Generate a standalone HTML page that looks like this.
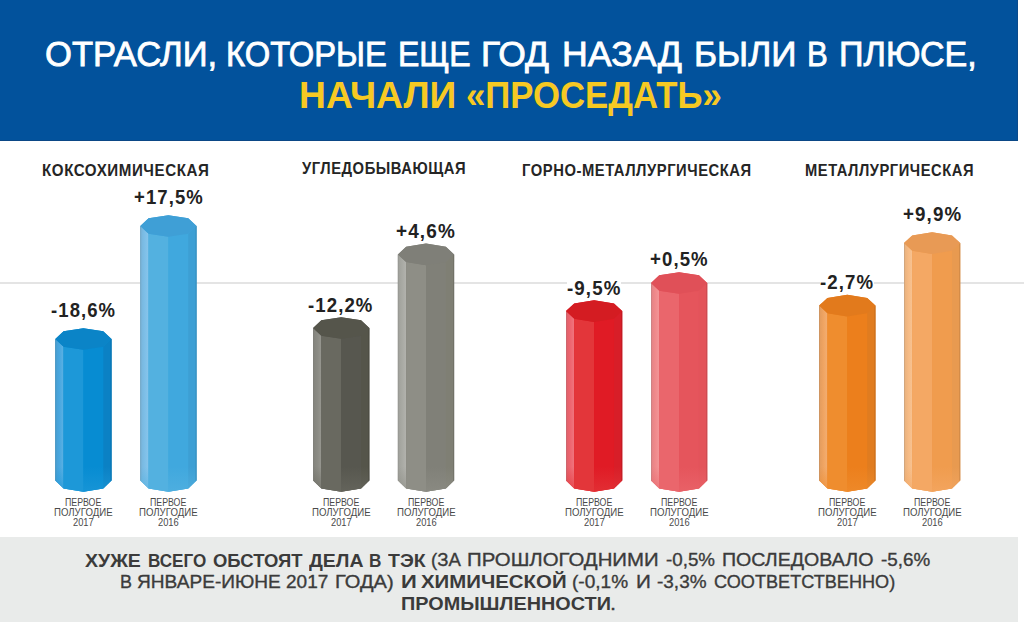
<!DOCTYPE html><html><head><meta charset="utf-8"><style>
html,body{margin:0;padding:0}body{width:1024px;height:622px;overflow:hidden;background:#fff;position:relative;font-family:"Liberation Sans",sans-serif}
.t{position:absolute;white-space:nowrap;transform-origin:0 0}b{font-weight:700}.bx{position:absolute;background:#fff}
</style></head><body>
<div style="position:absolute;left:0;top:0;width:1017px;height:140px;background:#02529c;border-right:1px solid #0a4a8c;border-bottom:1px solid #0b4886"></div>
<div style="position:absolute;left:0;top:282px;width:1024px;height:2px;background:#e4e4e4"></div>
<div style="position:absolute;left:0;top:537px;width:1018px;height:85px;background:#e9ebea"></div>
<div class="bx" style="left:50.9px;top:301.8px;width:65.0px;height:19.1px"></div>
<div class="bx" style="left:133.8px;top:188.7px;width:69.6px;height:18.9px"></div>
<div class="bx" style="left:308.0px;top:296.6px;width:65.3px;height:19.1px"></div>
<div class="bx" style="left:395.8px;top:222.7px;width:59.5px;height:19.1px"></div>
<div class="bx" style="left:567.0px;top:279.3px;width:54.2px;height:19.3px"></div>
<div class="bx" style="left:649.9px;top:251.1px;width:58.4px;height:19.0px"></div>
<div class="bx" style="left:820.0px;top:273.9px;width:54.0px;height:19.0px"></div>
<div class="bx" style="left:902.7px;top:206.0px;width:58.9px;height:18.8px"></div>
<svg width="1024" height="622" style="position:absolute;left:0;top:0"><polygon points="55.30,339.00 63.53,331.36 83.40,328.20 103.27,331.36 111.50,339.00 111.50,480.60 103.27,488.52 83.40,491.80 63.53,488.52 55.30,480.60" fill="#078cd2"/><defs><linearGradient id="gA1" x1="0" x2="1" y1="0" y2="0"><stop offset="0" stop-color="#469ed3"/><stop offset="0.55" stop-color="#4aa8e0"/><stop offset="1" stop-color="#5cb1e3"/></linearGradient></defs><polygon points="55.30,339.00 63.53,346.64 63.53,488.52 55.30,480.60" fill="url(#gA1)"/><polygon points="63.53,346.64 83.40,349.80 83.40,491.80 63.53,488.52" fill="#1d98d8"/><polygon points="83.40,349.80 103.27,346.64 103.27,488.52 83.40,491.80" fill="#078cd2"/><polygon points="103.27,346.64 111.50,339.00 111.50,480.60 103.27,488.52" fill="#0b81c4"/><defs><linearGradient id="bA1" gradientUnits="userSpaceOnUse" x1="0" x2="0" y1="466.6" y2="491.8"><stop offset="0" stop-color="#1d98d8" stop-opacity="0"/><stop offset="1" stop-color="#1d98d8" stop-opacity="0.7"/></linearGradient></defs><polygon points="55.30,466.60 111.50,466.60 111.50,480.60 103.27,488.52 83.40,491.80 63.53,488.52 55.30,480.60" fill="url(#bA1)"/><line x1="55.70" y1="339.00" x2="55.70" y2="480.60" stroke="#6090ac" stroke-width="0.8" opacity="0.6"/><line x1="111.10" y1="339.00" x2="111.10" y2="480.60" stroke="#086193" stroke-width="0.8" opacity="0.6"/><polygon points="55.30,339.00 63.53,331.36 83.40,328.20 103.27,331.36 111.50,339.00 103.27,346.64 83.40,349.80 63.53,346.64" fill="#0b84c7"/><polygon points="140.30,226.00 148.53,218.36 168.40,215.20 188.27,218.36 196.50,226.00 196.50,480.60 188.27,488.52 168.40,491.80 148.53,488.52 140.30,480.60" fill="#40a8de"/><defs><linearGradient id="gB1" x1="0" x2="1" y1="0" y2="0"><stop offset="0" stop-color="#76b4da"/><stop offset="0.55" stop-color="#7dbfe8"/><stop offset="1" stop-color="#8ac5ea"/></linearGradient></defs><polygon points="140.30,226.00 148.53,233.64 148.53,488.52 140.30,480.60" fill="url(#gB1)"/><polygon points="148.53,233.64 168.40,236.80 168.40,491.80 148.53,488.52" fill="#53b1e0"/><polygon points="168.40,236.80 188.27,233.64 188.27,488.52 168.40,491.80" fill="#40a8de"/><polygon points="188.27,233.64 196.50,226.00 196.50,480.60 188.27,488.52" fill="#3d9fd4"/><defs><linearGradient id="bB1" gradientUnits="userSpaceOnUse" x1="0" x2="0" y1="466.6" y2="491.8"><stop offset="0" stop-color="#53b1e0" stop-opacity="0"/><stop offset="1" stop-color="#53b1e0" stop-opacity="0.7"/></linearGradient></defs><polygon points="140.30,466.60 196.50,466.60 196.50,480.60 188.27,488.52 168.40,491.80 148.53,488.52 140.30,480.60" fill="url(#bB1)"/><line x1="140.70" y1="226.00" x2="140.70" y2="480.60" stroke="#7a9bb0" stroke-width="0.8" opacity="0.6"/><line x1="196.10" y1="226.00" x2="196.10" y2="480.60" stroke="#2e779f" stroke-width="0.8" opacity="0.6"/><polygon points="140.30,226.00 148.53,218.36 168.40,215.20 188.27,218.36 196.50,226.00 188.27,233.64 168.40,236.80 148.53,233.64" fill="#3f9fd6"/><polygon points="313.10,328.00 321.33,320.36 341.20,317.20 361.07,320.36 369.30,328.00 369.30,480.60 361.07,488.52 341.20,491.80 321.33,488.52 313.10,480.60" fill="#57574f"/><defs><linearGradient id="gA2" x1="0" x2="1" y1="0" y2="0"><stop offset="0" stop-color="#83837c"/><stop offset="0.55" stop-color="#8b8b84"/><stop offset="1" stop-color="#979790"/></linearGradient></defs><polygon points="313.10,328.00 321.33,335.64 321.33,488.52 313.10,480.60" fill="url(#gA2)"/><polygon points="321.33,335.64 341.20,338.80 341.20,491.80 321.33,488.52" fill="#696960"/><polygon points="341.20,338.80 361.07,335.64 361.07,488.52 341.20,491.80" fill="#57574f"/><polygon points="361.07,335.64 369.30,328.00 369.30,480.60 361.07,488.52" fill="#55554a"/><defs><linearGradient id="bA2" gradientUnits="userSpaceOnUse" x1="0" x2="0" y1="466.6" y2="491.8"><stop offset="0" stop-color="#696960" stop-opacity="0"/><stop offset="1" stop-color="#696960" stop-opacity="0.7"/></linearGradient></defs><polygon points="313.10,466.60 369.30,466.60 369.30,480.60 361.07,488.52 341.20,491.80 321.33,488.52 313.10,480.60" fill="url(#bA2)"/><line x1="313.50" y1="328.00" x2="313.50" y2="480.60" stroke="#81817e" stroke-width="0.8" opacity="0.6"/><line x1="368.90" y1="328.00" x2="368.90" y2="480.60" stroke="#404038" stroke-width="0.8" opacity="0.6"/><polygon points="313.10,328.00 321.33,320.36 341.20,317.20 361.07,320.36 369.30,328.00 361.07,335.64 341.20,338.80 321.33,335.64" fill="#55554b"/><polygon points="397.90,254.40 406.13,246.76 426.00,243.60 445.87,246.76 454.10,254.40 454.10,480.60 445.87,488.52 426.00,491.80 406.13,488.52 397.90,480.60" fill="#808078"/><defs><linearGradient id="gB2" x1="0" x2="1" y1="0" y2="0"><stop offset="0" stop-color="#9fa09a"/><stop offset="0.55" stop-color="#a9aaa4"/><stop offset="1" stop-color="#b2b2ad"/></linearGradient></defs><polygon points="397.90,254.40 406.13,262.04 406.13,488.52 397.90,480.60" fill="url(#gB2)"/><polygon points="406.13,262.04 426.00,265.20 426.00,491.80 406.13,488.52" fill="#8e8e86"/><polygon points="426.00,265.20 445.87,262.04 445.87,488.52 426.00,491.80" fill="#808078"/><polygon points="445.87,262.04 454.10,254.40 454.10,480.60 445.87,488.52" fill="#7f7f74"/><defs><linearGradient id="bB2" gradientUnits="userSpaceOnUse" x1="0" x2="0" y1="466.6" y2="491.8"><stop offset="0" stop-color="#8e8e86" stop-opacity="0"/><stop offset="1" stop-color="#8e8e86" stop-opacity="0.7"/></linearGradient></defs><polygon points="397.90,466.60 454.10,466.60 454.10,480.60 445.87,488.52 426.00,491.80 406.13,488.52 397.90,480.60" fill="url(#bB2)"/><line x1="398.30" y1="254.40" x2="398.30" y2="480.60" stroke="#90908e" stroke-width="0.8" opacity="0.6"/><line x1="453.70" y1="254.40" x2="453.70" y2="480.60" stroke="#5f5f57" stroke-width="0.8" opacity="0.6"/><polygon points="397.90,254.40 406.13,246.76 426.00,243.60 445.87,246.76 454.10,254.40 445.87,262.04 426.00,265.20 406.13,262.04" fill="#7f7f78"/><polygon points="566.00,311.10 574.23,303.46 594.10,300.30 613.97,303.46 622.20,311.10 622.20,480.60 613.97,488.52 594.10,491.80 574.23,488.52 566.00,480.60" fill="#e01b25"/><defs><linearGradient id="gA3" x1="0" x2="1" y1="0" y2="0"><stop offset="0" stop-color="#e06069"/><stop offset="0.55" stop-color="#ee6670"/><stop offset="1" stop-color="#f0757e"/></linearGradient></defs><polygon points="566.00,311.10 574.23,318.74 574.23,488.52 566.00,480.60" fill="url(#gA3)"/><polygon points="574.23,318.74 594.10,321.90 594.10,491.80 574.23,488.52" fill="#e3363a"/><polygon points="594.10,321.90 613.97,318.74 613.97,488.52 594.10,491.80" fill="#e01b25"/><polygon points="613.97,318.74 622.20,311.10 622.20,480.60 613.97,488.52" fill="#d81e28"/><defs><linearGradient id="bA3" gradientUnits="userSpaceOnUse" x1="0" x2="0" y1="466.6" y2="491.8"><stop offset="0" stop-color="#e3363a" stop-opacity="0"/><stop offset="1" stop-color="#e3363a" stop-opacity="0.7"/></linearGradient></defs><polygon points="566.00,466.60 622.20,466.60 622.20,480.60 613.97,488.52 594.10,491.80 574.23,488.52 566.00,480.60" fill="url(#bA3)"/><line x1="566.40" y1="311.10" x2="566.40" y2="480.60" stroke="#b26e74" stroke-width="0.8" opacity="0.6"/><line x1="621.80" y1="311.10" x2="621.80" y2="480.60" stroke="#a2161e" stroke-width="0.8" opacity="0.6"/><polygon points="566.00,311.10 574.23,303.46 594.10,300.30 613.97,303.46 622.20,311.10 613.97,318.74 594.10,321.90 574.23,318.74" fill="#d41c22"/><polygon points="651.00,283.00 659.23,275.36 679.10,272.20 698.97,275.36 707.20,283.00 707.20,480.60 698.97,488.52 679.10,491.80 659.23,488.52 651.00,480.60" fill="#e5555c"/><defs><linearGradient id="gB3" x1="0" x2="1" y1="0" y2="0"><stop offset="0" stop-color="#e28284"/><stop offset="0.55" stop-color="#f08a8c"/><stop offset="1" stop-color="#f29698"/></linearGradient></defs><polygon points="651.00,283.00 659.23,290.64 659.23,488.52 651.00,480.60" fill="url(#gB3)"/><polygon points="659.23,290.64 679.10,293.80 679.10,491.80 659.23,488.52" fill="#ea666c"/><polygon points="679.10,293.80 698.97,290.64 698.97,488.52 679.10,491.80" fill="#e5555c"/><polygon points="698.97,290.64 707.20,283.00 707.20,480.60 698.97,488.52" fill="#e3545a"/><defs><linearGradient id="bB3" gradientUnits="userSpaceOnUse" x1="0" x2="0" y1="466.6" y2="491.8"><stop offset="0" stop-color="#ea666c" stop-opacity="0"/><stop offset="1" stop-color="#ea666c" stop-opacity="0.7"/></linearGradient></defs><polygon points="651.00,466.60 707.20,466.60 707.20,480.60 698.97,488.52 679.10,491.80 659.23,488.52 651.00,480.60" fill="url(#bB3)"/><line x1="651.40" y1="283.00" x2="651.40" y2="480.60" stroke="#b48082" stroke-width="0.8" opacity="0.6"/><line x1="706.80" y1="283.00" x2="706.80" y2="480.60" stroke="#aa3f44" stroke-width="0.8" opacity="0.6"/><polygon points="651.00,283.00 659.23,275.36 679.10,272.20 698.97,275.36 707.20,283.00 698.97,290.64 679.10,293.80 659.23,290.64" fill="#e05058"/><polygon points="819.20,305.60 827.43,297.96 847.30,294.80 867.17,297.96 875.40,305.60 875.40,480.60 867.17,488.52 847.30,491.80 827.43,488.52 819.20,480.60" fill="#ec7f1c"/><defs><linearGradient id="gA4" x1="0" x2="1" y1="0" y2="0"><stop offset="0" stop-color="#e29b5d"/><stop offset="0.55" stop-color="#f0a563"/><stop offset="1" stop-color="#f2ae73"/></linearGradient></defs><polygon points="819.20,305.60 827.43,313.24 827.43,488.52 819.20,480.60" fill="url(#gA4)"/><polygon points="827.43,313.24 847.30,316.40 847.30,491.80 827.43,488.52" fill="#ef8d2e"/><polygon points="847.30,316.40 867.17,313.24 867.17,488.52 847.30,491.80" fill="#ec7f1c"/><polygon points="867.17,313.24 875.40,305.60 875.40,480.60 867.17,488.52" fill="#e07c20"/><defs><linearGradient id="bA4" gradientUnits="userSpaceOnUse" x1="0" x2="0" y1="466.6" y2="491.8"><stop offset="0" stop-color="#ef8d2e" stop-opacity="0"/><stop offset="1" stop-color="#ef8d2e" stop-opacity="0.7"/></linearGradient></defs><polygon points="819.20,466.60 875.40,466.60 875.40,480.60 867.17,488.52 847.30,491.80 827.43,488.52 819.20,480.60" fill="url(#bA4)"/><line x1="819.60" y1="305.60" x2="819.60" y2="480.60" stroke="#b48e6d" stroke-width="0.8" opacity="0.6"/><line x1="875.00" y1="305.60" x2="875.00" y2="480.60" stroke="#a85d18" stroke-width="0.8" opacity="0.6"/><polygon points="819.20,305.60 827.43,297.96 847.30,294.80 867.17,297.96 875.40,305.60 867.17,313.24 847.30,316.40 827.43,313.24" fill="#e27a1c"/><polygon points="904.00,243.10 912.23,235.46 932.10,232.30 951.97,235.46 960.20,243.10 960.20,480.60 951.97,488.52 932.10,491.80 912.23,488.52 904.00,480.60" fill="#f09c4e"/><defs><linearGradient id="gB4" x1="0" x2="1" y1="0" y2="0"><stop offset="0" stop-color="#e7b07d"/><stop offset="0.55" stop-color="#f6bb85"/><stop offset="1" stop-color="#f7c291"/></linearGradient></defs><polygon points="904.00,243.10 912.23,250.74 912.23,488.52 904.00,480.60" fill="url(#gB4)"/><polygon points="912.23,250.74 932.10,253.90 932.10,491.80 912.23,488.52" fill="#f4a864"/><polygon points="932.10,253.90 951.97,250.74 951.97,488.52 932.10,491.80" fill="#f09c4e"/><polygon points="951.97,250.74 960.20,243.10 960.20,480.60 951.97,488.52" fill="#e89a50"/><defs><linearGradient id="bB4" gradientUnits="userSpaceOnUse" x1="0" x2="0" y1="466.6" y2="491.8"><stop offset="0" stop-color="#f4a864" stop-opacity="0"/><stop offset="1" stop-color="#f4a864" stop-opacity="0.7"/></linearGradient></defs><polygon points="904.00,466.60 960.20,466.60 960.20,480.60 951.97,488.52 932.10,491.80 912.23,488.52 904.00,480.60" fill="url(#bB4)"/><line x1="904.40" y1="243.10" x2="904.40" y2="480.60" stroke="#b6997e" stroke-width="0.8" opacity="0.6"/><line x1="959.80" y1="243.10" x2="959.80" y2="480.60" stroke="#ae743c" stroke-width="0.8" opacity="0.6"/><polygon points="904.00,243.10 912.23,235.46 932.10,232.30 951.97,235.46 960.20,243.10 951.97,250.74 932.10,253.90 912.23,250.74" fill="#e89a55"/></svg>
<div class="t" style="left:44.53px;top:37.37px;font:400 34.37px/34.37px 'Liberation Sans', sans-serif;color:#ffffff;transform:scaleX(1.0071);-webkit-text-stroke:0.8px #fff;">ОТРАСЛИ,</div>
<div class="t" style="left:226.12px;top:37.37px;font:400 34.37px/34.37px 'Liberation Sans', sans-serif;color:#ffffff;transform:scaleX(0.9532);-webkit-text-stroke:0.8px #fff;">КОТОРЫЕ</div>
<div class="t" style="left:398.08px;top:37.37px;font:400 34.37px/34.37px 'Liberation Sans', sans-serif;color:#ffffff;transform:scaleX(0.9312);-webkit-text-stroke:0.8px #fff;">ЕЩЕ</div>
<div class="t" style="left:481.34px;top:37.37px;font:400 34.37px/34.37px 'Liberation Sans', sans-serif;color:#ffffff;transform:scaleX(1.0316);-webkit-text-stroke:0.8px #fff;">ГОД</div>
<div class="t" style="left:561.92px;top:37.37px;font:400 34.37px/34.37px 'Liberation Sans', sans-serif;color:#ffffff;transform:scaleX(1.0378);-webkit-text-stroke:0.8px #fff;">НАЗАД</div>
<div class="t" style="left:693.86px;top:37.37px;font:400 34.37px/34.37px 'Liberation Sans', sans-serif;color:#ffffff;transform:scaleX(1.0231);-webkit-text-stroke:0.8px #fff;">БЫЛИ</div>
<div class="t" style="left:807.44px;top:37.37px;font:400 34.37px/34.37px 'Liberation Sans', sans-serif;color:#ffffff;transform:scaleX(0.9061);-webkit-text-stroke:0.8px #fff;">В</div>
<div class="t" style="left:839.45px;top:37.37px;font:400 34.37px/34.37px 'Liberation Sans', sans-serif;color:#ffffff;transform:scaleX(0.9925);-webkit-text-stroke:0.8px #fff;">ПЛЮСЕ,</div>
<div class="t" style="left:298.98px;top:77.50px;font:700 36.95px/36.95px 'Liberation Sans', sans-serif;color:#f6c923;transform:scaleX(1.0083);">НАЧАЛИ</div>
<div class="t" style="left:466.02px;top:77.50px;font:700 36.95px/36.95px 'Liberation Sans', sans-serif;color:#f6c923;transform:scaleX(0.9401);">«ПРОСЕДАТЬ»</div>
<div class="t" style="left:42.34px;top:161.80px;font:700 16.1px/16.1px 'Liberation Sans', sans-serif;color:#252525;transform:scaleX(0.9406);letter-spacing:0.6px;">КОКСОХИМИЧЕСКАЯ</div>
<div class="t" style="left:301.73px;top:159.80px;font:700 16.1px/16.1px 'Liberation Sans', sans-serif;color:#252525;transform:scaleX(0.9166);letter-spacing:0.6px;">УГЛЕДОБЫВАЮЩАЯ</div>
<div class="t" style="left:521.96px;top:161.80px;font:700 16.1px/16.1px 'Liberation Sans', sans-serif;color:#252525;transform:scaleX(0.9176);letter-spacing:0.6px;">ГОРНО-МЕТАЛЛУРГИЧЕСКАЯ</div>
<div class="t" style="left:805.37px;top:161.80px;font:700 16.1px/16.1px 'Liberation Sans', sans-serif;color:#252525;transform:scaleX(0.9132);letter-spacing:0.6px;">МЕТАЛЛУРГИЧЕСКАЯ</div>
<div class="t" style="left:51.20px;top:299.90px;font:700 20.4px/20.4px 'Liberation Sans', sans-serif;color:#222222;transform:scaleX(0.9072);letter-spacing:1.2px;">-18,6%</div>
<div class="t" style="left:134.07px;top:186.60px;font:700 20.4px/20.4px 'Liberation Sans', sans-serif;color:#222222;transform:scaleX(0.9085);letter-spacing:1.2px;">+17,5%</div>
<div class="t" style="left:308.30px;top:294.70px;font:700 20.4px/20.4px 'Liberation Sans', sans-serif;color:#222222;transform:scaleX(0.9115);letter-spacing:1.2px;">-12,2%</div>
<div class="t" style="left:396.05px;top:220.80px;font:700 20.4px/20.4px 'Liberation Sans', sans-serif;color:#222222;transform:scaleX(0.9299);letter-spacing:1.2px;">+4,6%</div>
<div class="t" style="left:567.29px;top:277.60px;font:700 20.4px/20.4px 'Liberation Sans', sans-serif;color:#222222;transform:scaleX(0.9178);letter-spacing:1.2px;">-9,5%</div>
<div class="t" style="left:650.16px;top:249.10px;font:700 20.4px/20.4px 'Liberation Sans', sans-serif;color:#222222;transform:scaleX(0.9121);letter-spacing:1.2px;">+0,5%</div>
<div class="t" style="left:820.30px;top:271.90px;font:700 20.4px/20.4px 'Liberation Sans', sans-serif;color:#222222;transform:scaleX(0.9143);letter-spacing:1.2px;">-2,7%</div>
<div class="t" style="left:902.96px;top:203.80px;font:700 20.4px/20.4px 'Liberation Sans', sans-serif;color:#222222;transform:scaleX(0.9202);letter-spacing:1.2px;">+9,9%</div>
<div class="t" style="left:65.11px;top:497.50px;font:400 10.17px/10.17px 'Liberation Sans', sans-serif;color:#4a4a4a;transform:scaleX(0.8652);">ПЕРВОЕ</div>
<div class="t" style="left:53.95px;top:507.90px;font:400 10.17px/10.17px 'Liberation Sans', sans-serif;color:#4a4a4a;transform:scaleX(0.9481);">ПОЛУГОДИЕ</div>
<div class="t" style="left:72.92px;top:517.80px;font:400 10.17px/10.17px 'Liberation Sans', sans-serif;color:#4a4a4a;transform:scaleX(0.9180);">2017</div>
<div class="t" style="left:150.11px;top:497.50px;font:400 10.17px/10.17px 'Liberation Sans', sans-serif;color:#4a4a4a;transform:scaleX(0.8652);">ПЕРВОЕ</div>
<div class="t" style="left:138.95px;top:507.90px;font:400 10.17px/10.17px 'Liberation Sans', sans-serif;color:#4a4a4a;transform:scaleX(0.9481);">ПОЛУГОДИЕ</div>
<div class="t" style="left:157.92px;top:517.80px;font:400 10.17px/10.17px 'Liberation Sans', sans-serif;color:#4a4a4a;transform:scaleX(0.9163);">2016</div>
<div class="t" style="left:322.91px;top:497.50px;font:400 10.17px/10.17px 'Liberation Sans', sans-serif;color:#4a4a4a;transform:scaleX(0.8652);">ПЕРВОЕ</div>
<div class="t" style="left:311.75px;top:507.90px;font:400 10.17px/10.17px 'Liberation Sans', sans-serif;color:#4a4a4a;transform:scaleX(0.9481);">ПОЛУГОДИЕ</div>
<div class="t" style="left:330.72px;top:517.80px;font:400 10.17px/10.17px 'Liberation Sans', sans-serif;color:#4a4a4a;transform:scaleX(0.9180);">2017</div>
<div class="t" style="left:407.71px;top:497.50px;font:400 10.17px/10.17px 'Liberation Sans', sans-serif;color:#4a4a4a;transform:scaleX(0.8652);">ПЕРВОЕ</div>
<div class="t" style="left:396.55px;top:507.90px;font:400 10.17px/10.17px 'Liberation Sans', sans-serif;color:#4a4a4a;transform:scaleX(0.9481);">ПОЛУГОДИЕ</div>
<div class="t" style="left:415.52px;top:517.80px;font:400 10.17px/10.17px 'Liberation Sans', sans-serif;color:#4a4a4a;transform:scaleX(0.9163);">2016</div>
<div class="t" style="left:575.81px;top:497.50px;font:400 10.17px/10.17px 'Liberation Sans', sans-serif;color:#4a4a4a;transform:scaleX(0.8652);">ПЕРВОЕ</div>
<div class="t" style="left:564.65px;top:507.90px;font:400 10.17px/10.17px 'Liberation Sans', sans-serif;color:#4a4a4a;transform:scaleX(0.9481);">ПОЛУГОДИЕ</div>
<div class="t" style="left:583.62px;top:517.80px;font:400 10.17px/10.17px 'Liberation Sans', sans-serif;color:#4a4a4a;transform:scaleX(0.9180);">2017</div>
<div class="t" style="left:660.81px;top:497.50px;font:400 10.17px/10.17px 'Liberation Sans', sans-serif;color:#4a4a4a;transform:scaleX(0.8652);">ПЕРВОЕ</div>
<div class="t" style="left:649.65px;top:507.90px;font:400 10.17px/10.17px 'Liberation Sans', sans-serif;color:#4a4a4a;transform:scaleX(0.9481);">ПОЛУГОДИЕ</div>
<div class="t" style="left:668.62px;top:517.80px;font:400 10.17px/10.17px 'Liberation Sans', sans-serif;color:#4a4a4a;transform:scaleX(0.9163);">2016</div>
<div class="t" style="left:829.01px;top:497.50px;font:400 10.17px/10.17px 'Liberation Sans', sans-serif;color:#4a4a4a;transform:scaleX(0.8652);">ПЕРВОЕ</div>
<div class="t" style="left:817.85px;top:507.90px;font:400 10.17px/10.17px 'Liberation Sans', sans-serif;color:#4a4a4a;transform:scaleX(0.9481);">ПОЛУГОДИЕ</div>
<div class="t" style="left:836.82px;top:517.80px;font:400 10.17px/10.17px 'Liberation Sans', sans-serif;color:#4a4a4a;transform:scaleX(0.9180);">2017</div>
<div class="t" style="left:913.81px;top:497.50px;font:400 10.17px/10.17px 'Liberation Sans', sans-serif;color:#4a4a4a;transform:scaleX(0.8652);">ПЕРВОЕ</div>
<div class="t" style="left:902.65px;top:507.90px;font:400 10.17px/10.17px 'Liberation Sans', sans-serif;color:#4a4a4a;transform:scaleX(0.9481);">ПОЛУГОДИЕ</div>
<div class="t" style="left:921.62px;top:517.80px;font:400 10.17px/10.17px 'Liberation Sans', sans-serif;color:#4a4a4a;transform:scaleX(0.9163);">2016</div>
<div class="t" style="left:84.95px;top:551.50px;font:700 18.92px/18.92px 'Liberation Sans', sans-serif;color:#3b3b3b;transform:scaleX(1.0337);">ХУЖЕ</div>
<div class="t" style="left:147.93px;top:551.50px;font:700 18.92px/18.92px 'Liberation Sans', sans-serif;color:#3b3b3b;transform:scaleX(0.9039);">ВСЕГО</div>
<div class="t" style="left:212.55px;top:551.50px;font:700 18.92px/18.92px 'Liberation Sans', sans-serif;color:#3b3b3b;transform:scaleX(0.9752);">ОБСТОЯТ</div>
<div class="t" style="left:309.46px;top:551.50px;font:700 18.92px/18.92px 'Liberation Sans', sans-serif;color:#3b3b3b;transform:scaleX(1.0287);">ДЕЛА</div>
<div class="t" style="left:369.42px;top:551.50px;font:700 18.92px/18.92px 'Liberation Sans', sans-serif;color:#3b3b3b;transform:scaleX(0.9089);">В</div>
<div class="t" style="left:387.54px;top:551.50px;font:700 18.92px/18.92px 'Liberation Sans', sans-serif;color:#3b3b3b;transform:scaleX(1.0304);">ТЭК</div>
<div class="t" style="left:430.81px;top:551.31px;font:400 18.41px/18.41px 'Liberation Sans', sans-serif;color:#3b3b3b;transform:scaleX(1.0097);-webkit-text-stroke:0.35px #3b3b3b;">(ЗА</div>
<div class="t" style="left:466.84px;top:551.31px;font:400 18.41px/18.41px 'Liberation Sans', sans-serif;color:#3b3b3b;transform:scaleX(1.1071);-webkit-text-stroke:0.35px #3b3b3b;">ПРОШЛОГОДНИМИ</div>
<div class="t" style="left:665.72px;top:551.31px;font:400 18.41px/18.41px 'Liberation Sans', sans-serif;color:#3b3b3b;transform:scaleX(1.0200);-webkit-text-stroke:0.35px #3b3b3b;">-0,5%</div>
<div class="t" style="left:721.50px;top:551.31px;font:400 18.41px/18.41px 'Liberation Sans', sans-serif;color:#3b3b3b;transform:scaleX(1.0657);-webkit-text-stroke:0.35px #3b3b3b;">ПОСЛЕДОВАЛО</div>
<div class="t" style="left:880.61px;top:551.31px;font:400 18.41px/18.41px 'Liberation Sans', sans-serif;color:#3b3b3b;transform:scaleX(1.0221);-webkit-text-stroke:0.35px #3b3b3b;">-5,6%</div>
<div class="t" style="left:120.20px;top:572.51px;font:400 18.41px/18.41px 'Liberation Sans', sans-serif;color:#3b3b3b;transform:scaleX(0.9750);-webkit-text-stroke:0.35px #3b3b3b;">В</div>
<div class="t" style="left:137.21px;top:572.51px;font:400 18.41px/18.41px 'Liberation Sans', sans-serif;color:#3b3b3b;transform:scaleX(1.0373);-webkit-text-stroke:0.35px #3b3b3b;">ЯНВАРЕ-ИЮНЕ</div>
<div class="t" style="left:286.43px;top:572.51px;font:400 18.41px/18.41px 'Liberation Sans', sans-serif;color:#3b3b3b;transform:scaleX(1.0327);-webkit-text-stroke:0.35px #3b3b3b;">2017</div>
<div class="t" style="left:335.14px;top:572.51px;font:400 18.41px/18.41px 'Liberation Sans', sans-serif;color:#3b3b3b;transform:scaleX(1.0911);-webkit-text-stroke:0.35px #3b3b3b;">ГОДА)</div>
<div class="t" style="left:400.58px;top:572.70px;font:700 18.92px/18.92px 'Liberation Sans', sans-serif;color:#3b3b3b;transform:scaleX(1.1607);">И</div>
<div class="t" style="left:421.42px;top:572.70px;font:700 18.92px/18.92px 'Liberation Sans', sans-serif;color:#3b3b3b;transform:scaleX(1.0788);">ХИМИЧЕСКОЙ</div>
<div class="t" style="left:572.19px;top:572.51px;font:400 18.41px/18.41px 'Liberation Sans', sans-serif;color:#3b3b3b;transform:scaleX(1.0350);-webkit-text-stroke:0.35px #3b3b3b;">(-0,1%</div>
<div class="t" style="left:635.59px;top:572.51px;font:400 18.41px/18.41px 'Liberation Sans', sans-serif;color:#3b3b3b;transform:scaleX(1.1221);-webkit-text-stroke:0.35px #3b3b3b;">И</div>
<div class="t" style="left:657.11px;top:572.51px;font:400 18.41px/18.41px 'Liberation Sans', sans-serif;color:#3b3b3b;transform:scaleX(1.0306);-webkit-text-stroke:0.35px #3b3b3b;">-3,3%</div>
<div class="t" style="left:713.84px;top:572.51px;font:400 18.41px/18.41px 'Liberation Sans', sans-serif;color:#3b3b3b;transform:scaleX(0.9847);-webkit-text-stroke:0.35px #3b3b3b;">СООТВЕТСТВЕННО)</div>
<div class="t" style="left:400.59px;top:595.00px;font:700 18.92px/18.92px 'Liberation Sans', sans-serif;color:#3b3b3b;transform:scaleX(1.0493);">ПРОМЫШЛЕННОСТИ</div>
<div class="t" style="left:609.95px;top:594.81px;font:400 18.41px/18.41px 'Liberation Sans', sans-serif;color:#3b3b3b;transform:scaleX(1.1775);-webkit-text-stroke:0.35px #3b3b3b;">.</div>
</body></html>
